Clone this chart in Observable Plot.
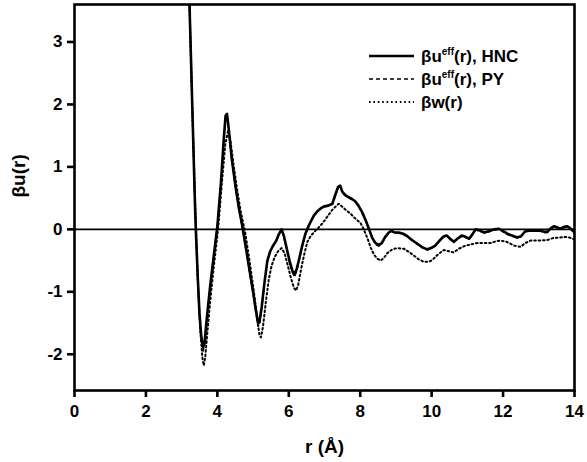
<!DOCTYPE html>
<html>
<head>
<meta charset="utf-8">
<script src="https://cdn.jsdelivr.net/npm/d3@7"></script>
<script src="https://cdn.jsdelivr.net/npm/@observablehq/plot@0.6"></script>
<style>
  html, body { margin: 0; padding: 0; background: #fff; }
  #chart { position: relative; width: 587px; height: 462px; }
</style>
</head>
<body>
<div id="chart"></div>
<script>
// ---- data ----
const xTicks = [0, 2, 4, 6, 8, 10, 12, 14];
const yTicks = [-2, -1, 0, 1, 2, 3];
const seriesNames = ["HNC", "PY", "w"];

const rU = [3.18,3.22,3.30,3.37,3.40,3.45,3.50,3.55,3.60,3.64,3.70,3.80,3.90,4.00,4.10,4.18,4.23,4.27,4.32,4.40,4.50,4.60,4.70,4.80,4.90,5.00,5.08,5.14,5.18,5.24,5.32,5.40,5.48,5.55,5.65,5.72,5.80,5.86,5.94,6.02,6.10,6.16,6.22,6.30,6.38,6.46,6.55,6.62,6.70,6.80,6.90,7.00,7.10,7.22,7.30,7.38,7.44,7.50,7.58,7.66,7.76,7.86,7.95,8.05,8.15,8.25,8.34,8.43,8.52,8.60,8.70,8.80,8.88,8.96,9.08,9.20,9.32,9.45,9.60,9.75,9.88,9.98,10.10,10.22,10.34,10.42,10.52,10.62,10.72,10.84,10.95,11.05,11.14,11.23,11.35,11.48,11.60,11.75,11.89,12.00,12.12,12.25,12.40,12.50,12.62,12.72,12.90,13.05,13.15,13.24,13.34,13.43,13.52,13.61,13.70,13.80,13.90,14.00];
const uHNC = [4.0,3.6,1.93,0.46,-0.05,-0.75,-1.35,-1.72,-1.89,-1.82,-1.45,-0.90,-0.42,0.05,0.75,1.45,1.82,1.85,1.60,1.15,0.72,0.35,0.05,-0.30,-0.65,-1.00,-1.30,-1.50,-1.48,-1.25,-0.85,-0.50,-0.35,-0.27,-0.18,-0.08,0.00,-0.10,-0.30,-0.50,-0.66,-0.72,-0.64,-0.45,-0.25,-0.08,0.05,0.13,0.22,0.29,0.34,0.37,0.38,0.41,0.55,0.68,0.70,0.60,0.55,0.52,0.49,0.45,0.38,0.28,0.15,0.00,-0.14,-0.22,-0.25,-0.22,-0.12,-0.05,-0.02,-0.05,-0.05,-0.07,-0.11,-0.17,-0.23,-0.29,-0.32,-0.30,-0.26,-0.18,-0.11,-0.10,-0.15,-0.20,-0.15,-0.10,-0.12,-0.15,-0.08,0.00,-0.02,-0.05,-0.03,0.00,0.01,-0.03,-0.07,-0.10,-0.13,-0.11,-0.03,-0.02,-0.02,-0.02,-0.04,-0.04,0.02,0.05,0.03,0.01,0.04,0.05,0.01,-0.05];
const uPY  = [4.0,3.6,1.93,0.46,-0.05,-0.76,-1.38,-1.76,-1.95,-1.86,-1.47,-0.91,-0.43,0.04,0.74,1.43,1.80,1.82,1.58,1.13,0.70,0.33,0.03,-0.32,-0.68,-1.03,-1.34,-1.55,-1.53,-1.28,-0.87,-0.52,-0.36,-0.28,-0.19,-0.09,-0.01,-0.11,-0.32,-0.53,-0.69,-0.76,-0.67,-0.47,-0.27,-0.09,0.04,0.12,0.21,0.28,0.33,0.36,0.37,0.40,0.53,0.66,0.68,0.59,0.54,0.51,0.48,0.44,0.37,0.27,0.14,-0.01,-0.15,-0.24,-0.27,-0.24,-0.13,-0.06,-0.03,-0.06,-0.06,-0.08,-0.12,-0.18,-0.24,-0.30,-0.33,-0.31,-0.27,-0.19,-0.12,-0.11,-0.16,-0.21,-0.16,-0.11,-0.13,-0.16,-0.09,-0.01,-0.03,-0.06,-0.04,-0.01,0.00,-0.04,-0.08,-0.11,-0.14,-0.12,-0.04,-0.03,-0.03,-0.03,-0.05,-0.05,0.01,0.04,0.02,0.00,0.03,0.04,0.00,-0.06];

const rW = [3.18,3.22,3.30,3.38,3.45,3.52,3.58,3.62,3.66,3.72,3.80,3.90,4.02,4.12,4.22,4.30,4.36,4.45,4.55,4.65,4.78,4.90,5.00,5.10,5.18,5.22,5.28,5.36,5.44,5.52,5.60,5.70,5.80,5.88,5.96,6.06,6.14,6.20,6.26,6.35,6.44,6.52,6.62,6.75,6.89,7.00,7.10,7.20,7.30,7.40,7.50,7.62,7.73,7.85,8.01,8.10,8.20,8.30,8.38,8.48,8.57,8.66,8.76,8.90,9.04,9.22,9.36,9.50,9.64,9.78,9.92,10.02,10.18,10.34,10.48,10.62,10.76,10.91,11.10,11.28,11.45,11.65,11.80,11.93,12.10,12.31,12.49,12.62,12.77,13.00,13.24,13.40,13.61,13.80,14.00];
const uW = [4.0,3.6,1.9,0.4,-0.8,-1.6,-2.05,-2.18,-2.05,-1.65,-1.15,-0.6,0.0,0.7,1.35,1.58,1.45,1.05,0.65,0.3,-0.05,-0.5,-0.9,-1.35,-1.70,-1.73,-1.55,-1.15,-0.80,-0.58,-0.45,-0.35,-0.30,-0.38,-0.55,-0.78,-0.93,-0.98,-0.90,-0.62,-0.38,-0.20,-0.10,-0.02,0.06,0.14,0.22,0.30,0.36,0.41,0.36,0.30,0.25,0.18,0.10,0.00,-0.14,-0.30,-0.40,-0.47,-0.50,-0.46,-0.38,-0.32,-0.30,-0.31,-0.36,-0.42,-0.48,-0.52,-0.52,-0.49,-0.40,-0.33,-0.35,-0.37,-0.31,-0.27,-0.24,-0.22,-0.22,-0.22,-0.19,-0.18,-0.20,-0.26,-0.28,-0.22,-0.18,-0.18,-0.17,-0.14,-0.13,-0.12,-0.16];

// ---- build tables ----
const hnc = rU.map((r, i) => ({r, u: uHNC[i]}));
const py  = rU.map((r, i) => ({r, u: uPY[i]}));
const bw  = rW.map((r, i) => ({r, u: uW[i]}));

const font = "'Liberation Sans', Arial, Helvetica, sans-serif";

const chart = Plot.plot({
  width: 587,
  height: 462,
  marginLeft: 74,
  marginRight: 13,
  marginTop: 4,
  marginBottom: 72,
  style: {fontFamily: font, fontWeight: "bold", fontSize: "17px", color: "#000", background: "#fff"},
  x: {domain: [0, 14]},
  y: {domain: [-2.58, 3.6]},
  marks: [
    Plot.ruleY([0], {stroke: "#000", strokeWidth: 1.6}),
    Plot.line(bw, {x: "r", y: "u", stroke: "#000", strokeWidth: 2, strokeDasharray: "1.6,2.8", clip: true}),
    Plot.line(py, {x: "r", y: "u", stroke: "#000", strokeWidth: 1.5, strokeDasharray: "4,3", clip: true}),
    Plot.line(hnc, {x: "r", y: "u", stroke: "#000", strokeWidth: 2.6, clip: true}),
    Plot.frame({stroke: "#000", strokeWidth: 2.6}),
    Plot.axisX({ticks: xTicks, tickSize: 7, tickPadding: 7, strokeWidth: 2.6, label: null, fontSize: 17, fontWeight: "bold"}),
    Plot.axisY({ticks: yTicks, tickSize: 7, tickPadding: 5, strokeWidth: 2.6, label: null, fontSize: 17, fontWeight: "bold", tickFormat: d => d < 0 ? "-" + Math.abs(d) : String(d)}),
    Plot.text(["r (Å)"], {frameAnchor: "bottom", dy: 56, lineAnchor: "middle", fontSize: 19, fontWeight: "bold"}),
    Plot.text(["βu(r)"], {frameAnchor: "left", rotate: -90, dx: -56, lineAnchor: "middle", fontSize: 19, fontWeight: "bold"})
  ]
});
document.getElementById("chart").appendChild(chart);

// ---- legend (inside the frame, top right) ----
const svg = d3.select(chart);
const legendRows = [
  {dash: null, width: 2.6, main: "βu", sup: "eff", rest: "(r), HNC"},
  {dash: "4,3", width: 1.5, main: "βu", sup: "eff", rest: "(r), PY"},
  {dash: "1.6,2.8", width: 2, main: "βw(r)", sup: "", rest: ""}
];
const lg = svg.append("g").attr("font-family", font).attr("font-weight", "bold")
  .attr("font-size", 17).attr("text-anchor", "start");
legendRows.forEach((d, i) => {
  const y = 56 + i * 23;
  lg.append("line").attr("x1", 369).attr("x2", 414).attr("y1", y).attr("y2", y)
    .attr("stroke", "#000").attr("stroke-width", d.width).attr("stroke-dasharray", d.dash);
  const t = lg.append("text").attr("x", 421).attr("y", y + 6).attr("text-anchor", "start");
  t.append("tspan").text(d.main);
  if (d.sup) {
    t.append("tspan").attr("font-size", 10).attr("dy", -7).text(d.sup);
    t.append("tspan").attr("dy", 7).text(d.rest);
  }
});
</script>
</body>
</html>
